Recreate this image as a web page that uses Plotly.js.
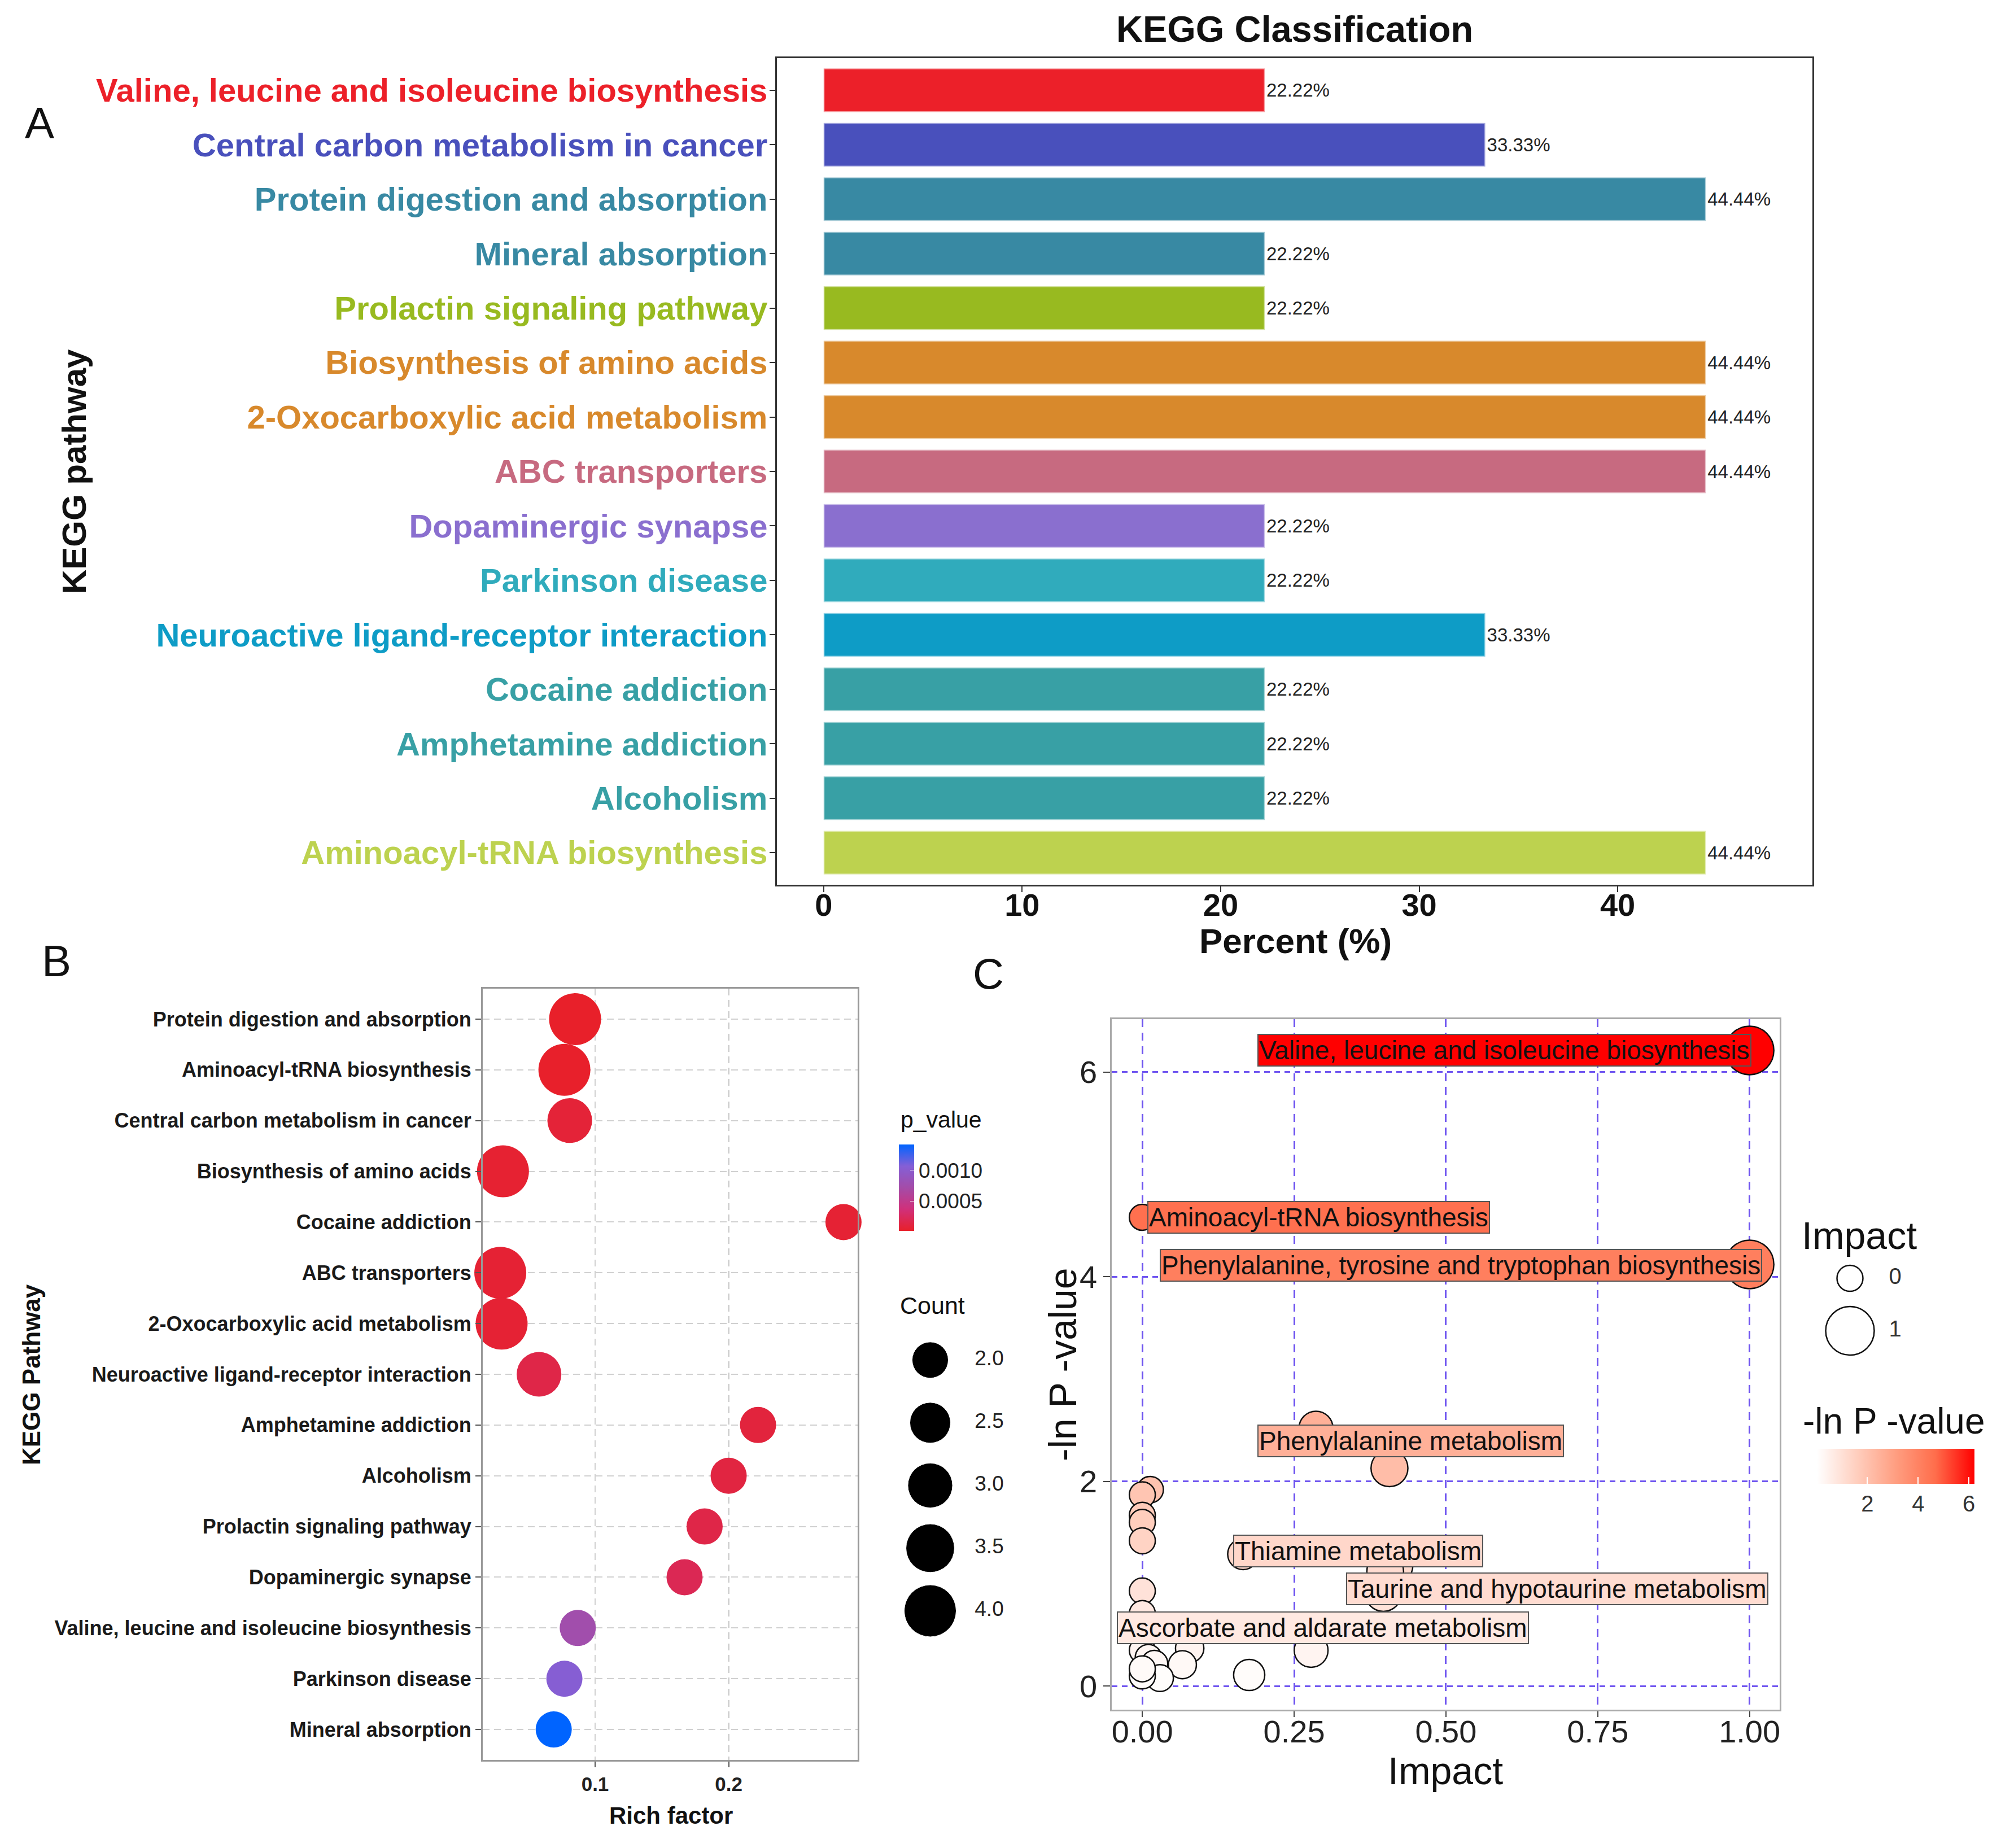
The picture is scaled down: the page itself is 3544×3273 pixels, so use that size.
<!DOCTYPE html>
<html><head><meta charset="utf-8">
<script src="https://cdn.plot.ly/plotly-3.0.1.min.js"></script>
<style>html,body{margin:0;padding:0;background:#fff}#chart{width:3544px;height:3273px}</style>
</head><body><div id="chart"></div>
<script>
// ---------- Panel A data ----------
const keggPathways = ["Valine, leucine and isoleucine biosynthesis","Central carbon metabolism in cancer","Protein digestion and absorption","Mineral absorption","Prolactin signaling pathway","Biosynthesis of amino acids","2-Oxocarboxylic acid metabolism","ABC transporters","Dopaminergic synapse","Parkinson disease","Neuroactive ligand-receptor interaction","Cocaine addiction","Amphetamine addiction","Alcoholism","Aminoacyl-tRNA biosynthesis"];
const keggPercent = [22.22,33.33,44.44,22.22,22.22,44.44,44.44,44.44,22.22,22.22,33.33,22.22,22.22,22.22,44.44];
const percentTicks = [0,10,20,30,40];

// ---------- Panel B data ----------
const bubblePathways = ["Protein digestion and absorption","Aminoacyl-tRNA biosynthesis","Central carbon metabolism in cancer","Biosynthesis of amino acids","Cocaine addiction","ABC transporters","2-Oxocarboxylic acid metabolism","Neuroactive ligand-receptor interaction","Amphetamine addiction","Alcoholism","Prolactin signaling pathway","Dopaminergic synapse","Valine, leucine and isoleucine biosynthesis","Parkinson disease","Mineral absorption"];
const richFactor = [0.085,0.077,0.081,0.031,0.286,0.029,0.030,0.058,0.222,0.200,0.182,0.167,0.087,0.077,0.069];
const bubbleCount = [4,4,3,4,2,4,4,3,2,2,2,2,2,2,2];
const pValue = [0.000017,0.00002,0.00008,0.00005,0.00006,0.00006,0.00006,0.00015,0.0001,0.00012,0.00015,0.0002,0.00075,0.00105,0.00142];
const richTicks = [0.1,0.2];
const pTicks = [0.0005,0.0010];
const countLegend = [2.0,2.5,3.0,3.5,4.0];

// ---------- Panel C data ----------
const impact = [1.0,0.0,1.0,0.286,0.407,0.013,0.0,0.0,0.0,0.0,0.166,0.415,0.40,0.397,0.0,0.0,0.0,0.01,0.02,0.078,0.066,0.029,0.0,0.176,0.278,0.0];
const negLnP = [6.21,4.58,4.12,2.52,2.13,1.92,1.87,1.67,1.60,1.42,1.29,1.18,1.12,0.91,0.93,0.71,0.35,0.28,0.22,0.37,0.21,0.08,0.10,0.11,0.35,0.17];
const metNames = ["Valine, leucine and isoleucine biosynthesis","Aminoacyl-tRNA biosynthesis","Phenylalanine, tyrosine and tryptophan biosynthesis","Phenylalanine metabolism","","","","","","","Thiamine metabolism","","Taurine and hypotaurine metabolism","","","Ascorbate and aldarate metabolism","","","","","","","","","",""];
const impactTicks = [0,0.25,0.5,0.75,1.0];
const impactTickText = ["0.00","0.25","0.50","0.75","1.00"];
const lnPTicks = [0,2,4,6];
const impactLegend = [0,1];
const lnPColorTicks = [2,4,6];

// ---------- styles ----------
const barColors = ["#EC2029","#4950BC","#3889A3","#3889A3","#98BA20","#D8892C","#D8892C","#C76A80","#8A6FCF","#30ABBC","#0E9CC6","#38A0A5","#38A0A5","#38A0A5","#BDD24F"];
const SANS = "Liberation Sans, Arial, sans-serif";
const pScale = [[0,'#E8202A'],[0.25,'#D0307A'],[0.5,'#A44CA8'],[0.75,'#845FD6'],[1,'#0064FF']];
const lnScale = [[0,'#FFFFFF'],[0.25,'#FFCFBF'],[0.5,'#FF9E81'],[0.75,'#FF6E4C'],[1,'#FF0000']];
const lnMin = 0.0, lnMax = 6.21;
const bSize = c => -3.6 + 47.8*Math.sqrt(c);
const cSize = v => Math.sqrt(46*46 + (86*86-46*46)*v);

function hex2rgb(h){return [parseInt(h.slice(1,3),16),parseInt(h.slice(3,5),16),parseInt(h.slice(5,7),16)];}
function scaleColor(scale, t){
  t = Math.max(0, Math.min(1, t));
  for (let i=1;i<scale.length;i++){
    if (t <= scale[i][0]){
      const f = (t - scale[i-1][0])/(scale[i][0]-scale[i-1][0]);
      const a = hex2rgb(scale[i-1][1]), b = hex2rgb(scale[i][1]);
      return 'rgb(' + a.map((v,k)=>Math.round(v+(b[k]-v)*f)).join(',') + ')';
    }
  }
  return scale[scale.length-1][1];
}

// label placement offsets (pixels) for panel C repelled labels
const labelPlace = {
  0:{xanchor:'right', xshift:3, yshift:0},
  1:{xanchor:'left', xshift:9, yshift:0},
  2:{xanchor:'right', xshift:22, yshift:-2},
  3:{xanchor:'left', xshift:-104, yshift:-22},
  10:{xanchor:'left', xshift:-18, yshift:6},
  12:{xanchor:'left', xshift:-69, yshift:-31},
  15:{xanchor:'left', xshift:-45, yshift:-25}
};

const traces = [];
// Panel A bars
traces.push({
  type:'bar', orientation:'h', x:keggPercent, y:keggPathways, xaxis:'x', yaxis:'y',
  width:0.8,
  marker:{color:barColors, line:{color:'rgba(255,255,255,0.55)', width:3}},
  text:keggPercent.map(v=>v.toFixed(2)+'%'), textposition:'outside', constraintext:'none',
  textfont:{family:SANS, size:33, color:'#222'}, cliponaxis:false, hoverinfo:'skip', showlegend:false
});
// Panel B bubbles
traces.push({
  type:'scatter', mode:'markers', x:richFactor, y:bubblePathways, xaxis:'x2', yaxis:'y2',
  marker:{size:bubbleCount.map(bSize), color:pValue, colorscale:pScale, cmin:0.000017, cmax:0.00142,
    opacity:1, line:{width:0},
    colorbar:{x:1591.7/3544, xanchor:'left', y:1-2103.4/3273, yanchor:'middle', len:153, lenmode:'pixels',
      thickness:27, thicknessmode:'pixels', xpad:0, ypad:0, outlinewidth:0,
      tickvals:pTicks, ticktext:pTicks.map(v=>v.toFixed(4)), ticks:'inside', ticklen:7, tickcolor:'rgba(255,255,255,0.8)',
      tickfont:{family:SANS, size:37, color:'#222'}, title:{text:''}}},
  cliponaxis:false, hoverinfo:'skip', showlegend:false
});
// Panel B size legend
traces.push({
  type:'scatter', mode:'markers', x:countLegend.map(()=>0.2375), y:countLegend, xaxis:'x4', yaxis:'y4',
  marker:{size:countLegend.map(bSize), color:'#000', opacity:1}, cliponaxis:false, hoverinfo:'skip', showlegend:false
});
traces.push({
  type:'scatter', mode:'text', x:countLegend.map(()=>0.76), y:countLegend, xaxis:'x4', yaxis:'y4',
  text:countLegend.map(v=>v.toFixed(1)), textposition:'middle center',
  textfont:{family:SANS, size:37, color:'#222'}, cliponaxis:false, hoverinfo:'skip', showlegend:false
});
// Panel C points
traces.push({
  type:'scatter', mode:'markers', x:impact, y:negLnP, xaxis:'x3', yaxis:'y3',
  marker:{size:impact.map(cSize), color:negLnP, colorscale:lnScale, cmin:lnMin, cmax:lnMax,
    line:{color:'#111', width:2.5}, opacity:1,
    colorbar:{orientation:'h', x:(3217.6+3496.5)/2/3544, xanchor:'center', y:1-2566/3273, yanchor:'top',
      len:279, lenmode:'pixels', thickness:62, thicknessmode:'pixels', xpad:0, ypad:0, outlinewidth:0,
      tickvals:lnPColorTicks, ticks:'inside', ticklen:12, tickcolor:'#fff', tickwidth:2,
      tickfont:{family:SANS, size:40, color:'#333'}, title:{text:''}}},
  cliponaxis:false, hoverinfo:'skip', showlegend:false
});
// Panel C size legend
traces.push({
  type:'scatter', mode:'markers', x:impactLegend.map(()=>0.3825), y:impactLegend, xaxis:'x5', yaxis:'y5',
  marker:{size:impactLegend.map(cSize), color:'#fff', opacity:1, line:{color:'#111', width:2.5}}, cliponaxis:false, hoverinfo:'skip', showlegend:false
});
traces.push({
  type:'scatter', mode:'text', x:impactLegend.map(()=>0.7825), y:impactLegend, xaxis:'x5', yaxis:'y5',
  text:impactLegend.map(String), textposition:'middle center',
  textfont:{family:SANS, size:40, color:'#333'}, cliponaxis:false, hoverinfo:'skip', showlegend:false
});

// annotations
const ann = [];
function txt(x,y,text,size,opts){ ann.push(Object.assign({xref:'paper',yref:'paper',x:x,y:y,text:text,showarrow:false,
  font:{family:SANS,size:size,color:'#111'},xanchor:'center',yanchor:'middle'},opts||{})); }
const bold = s => ({family:SANS,size:s,color:'#111',weight:'bold'});
txt(2293/3544, 1-52/3273, 'KEGG Classification', 65, {font:bold(65)});
txt(2294/3544, 1-1667/3273, 'Percent (%)', 62, {font:bold(62)});
txt(132/3544, 1-835/3273, 'KEGG pathway', 60, {textangle:-90, font:bold(60)});
txt(70/3544, 1-218/3273, 'A', 78);
txt(100/3544, 1-1702/3273, 'B', 78);
txt(55/3544, 1-2435/3273, 'KEGG Pathway', 44, {textangle:-90, font:bold(44)});
txt(1188/3544, 1-3215/3273, 'Rich factor', 42, {font:bold(42)});
txt(1593/3544, 1-1983/3273, 'p_value', 41, {xanchor:'left'});
txt(1592/3544, 1-2312/3273, 'Count', 43, {xanchor:'left'});
txt(1750/3544, 1-1724/3273, 'C', 76);
txt(2560/3544, 1-3136/3273, 'Impact', 68);
txt(1882/3544, 1-2417/3273, '-ln P -value', 68, {textangle:-90});
txt(3293/3544, 1-2188/3273, 'Impact', 68);
txt(3354/3544, 1-2517/3273, '-ln P -value', 64);
metNames.forEach((nm,i)=>{
  if(!nm) return;
  const p = labelPlace[i];
  ann.push({xref:'x3', yref:'y3', x:impact[i], y:negLnP[i], text:nm, showarrow:false,
    xanchor:p.xanchor, yanchor:'middle', xshift:p.xshift, yshift:p.yshift,
    font:{family:SANS, size:46, color:'#111'},
    bgcolor:scaleColor(lnScale,(negLnP[i]-lnMin)/(lnMax-lnMin)), bordercolor:'#555', borderwidth:2, borderpad:1});
});

const layout = {
  width:3544, height:3273, margin:{l:0,r:0,t:0,b:0}, paper_bgcolor:'#fff', plot_bgcolor:'#fff', showlegend:false,
  xaxis:{domain:[1376/3544,3210/3544], anchor:'y', range:[-2.355,49.81], tickvals:percentTicks, ticks:'outside', ticklen:10, tickwidth:2, tickcolor:'#333',
    ticklabelstandoff:-25,
    tickfont:bold(56), showline:true, mirror:true, linecolor:'#333', linewidth:3, showgrid:false, zeroline:false},
  yaxis:{domain:[1-1567/3273,1-103/3273], anchor:'x', type:'category', categoryarray:keggPathways, range:[14.59,-0.59],
    tickvals:keggPathways, ticktext:keggPathways.map((c,i)=>'<span style="color:'+barColors[i]+'">'+c+'</span>'),
    ticks:'outside', ticklen:10, tickwidth:2, tickcolor:'#333', tickfont:{family:SANS,size:58,weight:'bold'}, ticklabelstandoff:-8,
    showline:true, mirror:true, linecolor:'#333', linewidth:3, showgrid:false, zeroline:false},
  xaxis2:{domain:[855/3544,1519/3544], anchor:'y2', range:[0.01586,0.2966], tickvals:richTicks, ticktext:richTicks.map(String), ticks:'outside', ticklen:10, tickwidth:2, tickcolor:'#555',
    tickfont:{family:SANS,size:35,color:'#222',weight:'bold'}, showline:true, mirror:true, linecolor:'#999', linewidth:3,
    showgrid:true, gridcolor:'#D0D0D0', gridwidth:2.5, griddash:'12px,8px', zeroline:false},
  yaxis2:{domain:[1-3117/3273,1-1751/3273], anchor:'x2', type:'category', categoryarray:bubblePathways, range:[14.6,-0.6],
    ticks:'outside', ticklen:10, tickwidth:2, tickcolor:'#555', tickfont:{family:SANS,size:36,color:'#1a1a1a',weight:'bold'},
    showline:true, mirror:true, linecolor:'#999', linewidth:3, showgrid:true, gridcolor:'#D0D0D0', gridwidth:2, griddash:'12px,8px', zeroline:false},
  xaxis3:{domain:[1969.4/3544,3151.8/3544], anchor:'y3', range:[-0.050,1.0494], tickvals:impactTicks, ticktext:impactTickText, ticks:'outside', ticklen:10, tickwidth:2, tickcolor:'#444',
    ticklabelstandoff:-22,
    tickfont:{family:SANS,size:56,color:'#222'}, showline:true, mirror:true, linecolor:'#AAAAAA', linewidth:3,
    showgrid:true, gridcolor:'#6F55F0', gridwidth:3, griddash:'14px,10px', zeroline:false},
  yaxis3:{domain:[1-3027.8/3273,1-1805.3/3273], anchor:'x3', range:[-0.228,6.514], tickvals:lnPTicks, ticks:'outside', ticklen:12, tickwidth:2, tickcolor:'#444',
    tickfont:{family:SANS,size:56,color:'#222'}, showline:true, mirror:true, linecolor:'#AAAAAA', linewidth:3,
    showgrid:true, gridcolor:'#6F55F0', gridwidth:3, griddash:'10px,8px', zeroline:false},
  xaxis4:{domain:[1600/3544,1800/3544], anchor:'y4', range:[0,1], visible:false},
  yaxis4:{domain:[1-2853/3273,1-2408.8/3273], anchor:'x4', range:[4,2], visible:false},
  xaxis5:{domain:[3200/3544,3400/3544], anchor:'y5', range:[0,1], visible:false},
  yaxis5:{domain:[1-2357/3273,1-2264/3273], anchor:'x5', range:[1,0], visible:false},
  annotations:ann
};
Plotly.newPlot('chart', traces, layout, {staticPlot:true, displayModeBar:false});
</script></body></html>
